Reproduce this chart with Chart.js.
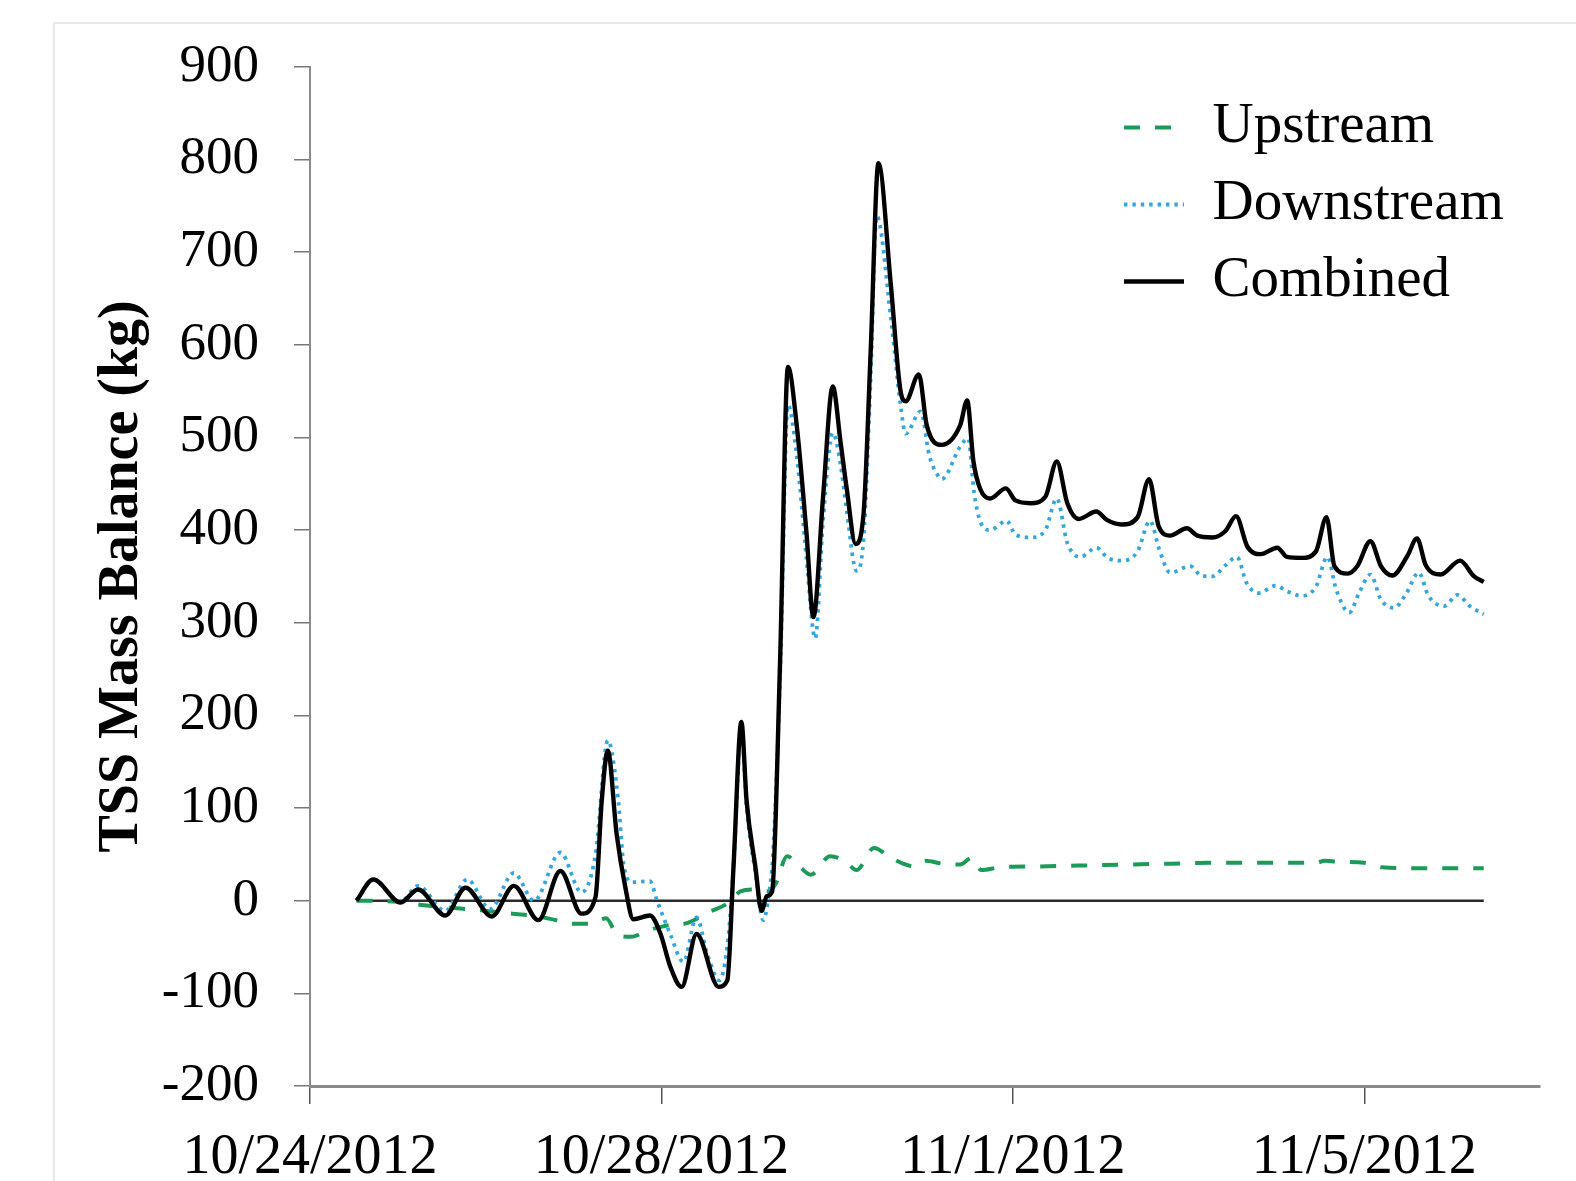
<!DOCTYPE html>
<html>
<head>
<meta charset="utf-8">
<title>TSS Mass Balance</title>
<script src="https://cdn.jsdelivr.net/npm/chart.js@4.4.1/dist/chart.umd.min.js"></script>
<style>
  html, body { margin: 0; padding: 0; background: #ffffff; }
  #wrap { position: relative; width: 1576px; height: 1181px; }
</style>
</head>
<body>
<div id="wrap"><canvas id="chart"></canvas></div>
<script>
// Time is in days since 10/24/2012 00:00; values are kg.
const tickDays = [0, 4, 8, 12];
const tickLabels = ['10/24/2012', '10/28/2012', '11/1/2012', '11/5/2012'];
const yTicks = { min: -200, max: 900, step: 100 };

const upstreamDays = [0.53, 1.0, 1.3, 1.65, 2.0, 2.3, 2.6, 2.8, 3.0, 3.2, 3.37, 3.5, 3.65, 3.85, 4.05, 4.3, 4.55, 4.75, 4.9, 5.05, 5.2, 5.3, 5.43, 5.58, 5.7, 5.92, 6.1, 6.22, 6.42, 6.6, 6.75, 6.88, 7.0, 7.2, 7.4, 7.53, 7.64, 7.85, 8.3, 8.8, 9.3, 9.8, 10.3, 10.8, 11.2, 11.45, 11.55, 11.7, 12.0, 12.2, 12.6, 13.0, 13.36];
const upstreamKg = [0, -1, -5, -8, -11, -14, -17, -21, -25, -25, -19, -37, -39, -32, -27, -24, -12, -3, 10, 12, 10, 18, 48, 36, 28, 48, 42, 33, 57, 47, 40, 37, 43, 40, 39, 46, 33, 36, 37, 38, 39, 40, 41, 41, 41, 41, 43, 42, 41, 36, 35, 35, 35];

const downstreamDays = [0.53, 0.72, 1.03, 1.23, 1.54, 1.79, 2.05, 2.32, 2.55, 2.85, 3.09, 3.25, 3.39, 3.51, 3.57, 3.67, 3.87, 3.95, 4.1, 4.25, 4.4, 4.52, 4.66, 4.76, 4.82, 4.91, 4.97, 5.07, 5.16, 5.22, 5.27, 5.35, 5.44, 5.54, 5.65, 5.75, 5.84, 5.95, 6.04, 6.11, 6.22, 6.3, 6.38, 6.45, 6.61, 6.72, 6.78, 6.95, 7.05, 7.14, 7.19, 7.4, 7.49, 7.56, 7.63, 7.74, 7.93, 8.03, 8.2, 8.37, 8.5, 8.62, 8.77, 8.95, 9.08, 9.24, 9.42, 9.56, 9.67, 9.79, 10.02, 10.14, 10.27, 10.42, 10.55, 10.66, 10.8, 10.99, 11.12, 11.29, 11.45, 11.58, 11.68, 11.83, 11.94, 12.07, 12.19, 12.34, 12.48, 12.62, 12.73, 12.91, 13.06, 13.2, 13.36];
const downstreamKg = [0, 22, -1, 16, -11, 23, -9, 30, 0, 52, 9, 50, 173, 107, 39, 20, 21, 0, -36, -66, -18, -57, -86, -40, 36, 185, 100, 30, -21, 5, 50, 240, 535, 480, 370, 283, 410, 505, 470, 420, 356, 390, 560, 739, 630, 536, 504, 528, 480, 460, 455, 490, 499, 440, 409, 400, 410, 395, 392, 400, 434, 386, 371, 381, 370, 367, 377, 410, 378, 354, 361, 351, 350, 362, 371, 343, 332, 340, 334, 329, 339, 371, 336, 311, 332, 352, 325, 316, 332, 354, 329, 318, 330, 318, 309];

const combinedDays = [0.53, 0.72, 1.03, 1.23, 1.54, 1.77, 2.07, 2.32, 2.6, 2.85, 3.09, 3.25, 3.32, 3.39, 3.49, 3.59, 3.68, 3.87, 3.99, 4.1, 4.23, 4.4, 4.65, 4.75, 4.82, 4.91, 4.97, 5.07, 5.14, 5.2, 5.26, 5.35, 5.44, 5.54, 5.65, 5.73, 5.84, 5.95, 6.04, 6.11, 6.21, 6.3, 6.38, 6.47, 6.61, 6.72, 6.78, 6.93, 7.02, 7.19, 7.4, 7.48, 7.55, 7.63, 7.74, 7.92, 8.03, 8.2, 8.37, 8.5, 8.62, 8.75, 8.95, 9.07, 9.24, 9.42, 9.55, 9.66, 9.79, 9.98, 10.1, 10.27, 10.42, 10.54, 10.67, 10.82, 11.01, 11.12, 11.29, 11.45, 11.57, 11.66, 11.81, 11.92, 12.07, 12.19, 12.32, 12.49, 12.6, 12.7, 12.87, 13.09, 13.25, 13.36];
const combinedKg = [0, 23, -2, 12, -16, 14, -17, 16, -21, 32, -14, 4, 107, 162, 72, 14, -20, -16, -36, -71, -93, -36, -93, -86, 36, 193, 107, 36, -11, 5, 10, 257, 576, 513, 398, 306, 436, 555, 494, 444, 385, 417, 589, 796, 666, 551, 539, 568, 513, 492, 513, 540, 475, 444, 434, 445, 432, 429, 436, 474, 429, 412, 420, 411, 406, 414, 455, 404, 394, 402, 394, 392, 399, 415, 382, 374, 381, 371, 370, 377, 414, 361, 353, 361, 388, 361, 351, 372, 391, 362, 352, 367, 350, 344];

// Reference line at zero spanning the record
const zeroDays = [0.53, 13.36];
const zeroKg = [0, 0];

const toPoints = (xs, ys) => xs.map((x, i) => ({ x: x, y: ys[i] }));

const serif = '"Liberation Serif", "Times New Roman", serif';

// Places the legend block inside the plot, upper right
const legendSpot = {
  id: 'legendSpot',
  afterLayout(chart) {
    const lg = chart.legend;
    if (!lg) return;
    const w = lg.width, h = lg.height;
    lg.left = 1104;
    lg.top = 79;
    lg.right = lg.left + w;
    lg.bottom = lg.top + h;
  }
};

// Faint outer frame of the chart panel
const panelFrame = {
  id: 'panelFrame',
  beforeDraw(chart) {
    const ctx = chart.ctx;
    ctx.save();
    ctx.strokeStyle = '#e8e8e8';
    ctx.lineWidth = 2;
    ctx.beginPath();
    ctx.moveTo(54, chart.height);
    ctx.lineTo(54, 23);
    ctx.lineTo(chart.width, 23);
    ctx.stroke();
    ctx.restore();
  }
};

// Legend samples carry each series' own stroke, width and dash
function legendItems(chart) {
  const items = Chart.defaults.plugins.legend.labels.generateLabels(chart);
  return items
    .filter(it => it.text !== 'zero')
    .map(it => {
      const ds = chart.data.datasets[it.datasetIndex];
      it.strokeStyle = ds.borderColor;
      it.fillStyle = ds.borderColor;
      it.lineWidth = ds.borderWidth;
      it.lineDash = ds.borderDash || [];
      it.lineCap = 'butt';
      it.pointStyle = 'line';
      return it;
    })
    .sort((a, b) => a.datasetIndex - b.datasetIndex);
}

new Chart(document.getElementById('chart'), {
  type: 'line',
  data: {
    datasets: [
      {
        label: 'Upstream',
        data: toPoints(upstreamDays, upstreamKg),
        borderColor: '#1c9a58',
        backgroundColor: '#1c9a58',
        borderWidth: 4,
        borderDash: [16, 15],
        cubicInterpolationMode: 'monotone',
        pointRadius: 0,
        order: 2
      },
      {
        label: 'Downstream',
        data: toPoints(downstreamDays, downstreamKg),
        borderColor: '#35a6dc',
        backgroundColor: '#35a6dc',
        borderWidth: 3.8,
        borderDash: [3.4, 5],
        cubicInterpolationMode: 'monotone',
        pointRadius: 0,
        order: 1
      },
      {
        label: 'Combined',
        data: toPoints(combinedDays, combinedKg),
        borderColor: '#000000',
        backgroundColor: '#000000',
        borderWidth: 4.4,
        cubicInterpolationMode: 'monotone',
        pointRadius: 0,
        order: 0
      },
      {
        label: 'zero',
        data: toPoints(zeroDays, zeroKg),
        borderColor: '#2b2b2b',
        borderWidth: 2.5,
        pointRadius: 0,
        tension: 0,
        order: 3
      }
    ]
  },
  options: {
    responsive: true,
    maintainAspectRatio: false,
    animation: false,
    devicePixelRatio: 1,
    layout: { padding: { left: 0, right: 36, top: 63, bottom: 0 } },
    plugins: {
      tooltip: { enabled: false },
      legend: {
        position: 'chartArea',
        align: 'start',
        labels: {
          usePointStyle: true,
          pointStyle: 'line',
          pointStyleWidth: 60,
          padding: 20,
          color: '#000000',
          font: { family: serif, size: 57 },
          generateLabels: legendItems
        }
      }
    },
    scales: {
      x: {
        type: 'linear',
        min: 0,
        max: 14,
        afterFit: (s) => { s.height = 95; },
        afterBuildTicks: (s) => { s.ticks = tickDays.map(v => ({ value: v })); },
        border: { display: true, color: '#8a8a8a', width: 3 },
        grid: { drawOnChartArea: false, drawTicks: true, tickLength: 18, color: '#555555', lineWidth: 1.5 },
        ticks: {
          padding: 21,
          color: '#000000',
          maxRotation: 0,
          autoSkip: false,
          font: { family: serif, size: 56 },
          callback: (v) => { const i = tickDays.indexOf(v); return i >= 0 ? tickLabels[i] : ''; }
        }
      },
      y: {
        min: yTicks.min,
        max: yTicks.max,
        afterFit: (s) => { s.width = 310; },
        border: { display: true, color: '#8a8a8a', width: 2 },
        grid: { drawOnChartArea: false, drawTicks: true, tickLength: 16, color: '#777777', lineWidth: 1.5 },
        ticks: {
          stepSize: yTicks.step,
          padding: 35,
          color: '#000000',
          font: { family: serif, size: 53 }
        },
        title: {
          display: true,
          text: 'TSS Mass Balance (kg)',
          color: '#000000',
          font: { family: serif, size: 56, weight: 'bold' },
          padding: { top: 89, bottom: 0 }
        }
      }
    }
  },
  plugins: [legendSpot, panelFrame]
});
</script>
</body>
</html>
